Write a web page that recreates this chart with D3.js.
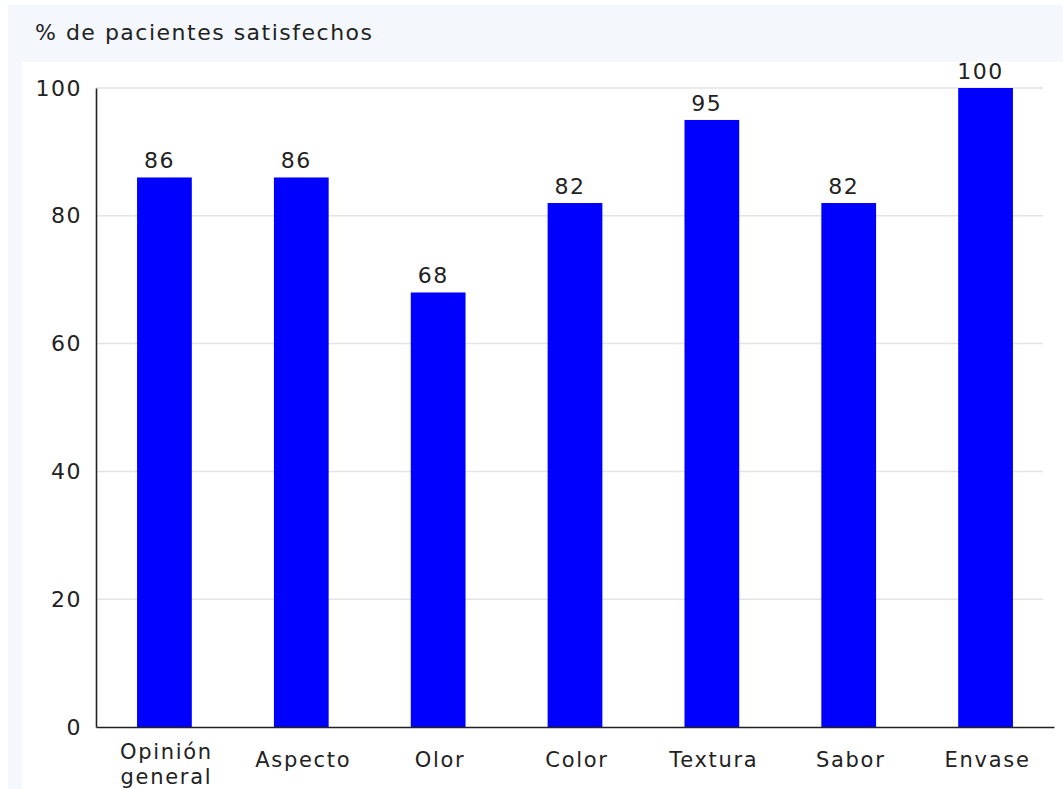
<!DOCTYPE html>
<html>
<head>
<meta charset="utf-8">
<script src="https://cdn.jsdelivr.net/npm/d3@7"></script>
<style>
  html, body { margin: 0; padding: 0; background: #ffffff; }
  svg { display: block; }
  text { font-family: "DejaVu Sans", Verdana, sans-serif; font-size: 22px; fill: #222; letter-spacing: 1.5px; }
  text.cat { font-size: 21px; letter-spacing: 1.7px; }
</style>
</head>
<body>
<svg id="chart" width="1063" height="789"></svg>
<script>
// Patient satisfaction by product attribute
const categories = ["Opinión general", "Aspecto", "Olor", "Color", "Textura", "Sabor", "Envase"];
const values = [86, 86, 68, 82, 95, 82, 100];
const yTicks = [0, 20, 40, 60, 80, 100];
const yTitle = "% de pacientes satisfechos";

const svg = d3.select("#chart");
const W = 1063, H = 789;

// background frame and white plotting panel
svg.append("rect").attr("x", 8).attr("y", 5).attr("width", W - 8).attr("height", H - 5).attr("fill", "#f4f8fd");
svg.append("rect").attr("x", 22).attr("y", 62).attr("width", W - 22).attr("height", H - 62).attr("fill", "#ffffff");

const x0 = 96, x1 = 1054, yBottom = 727, yTop = 88;

const x = d3.scaleBand().domain(categories).range([x0, x1]).paddingInner(0.6).paddingOuter(0.3);
const y = d3.scaleLinear().domain([0, 100]).range([yBottom, yTop]);

// horizontal gridlines
svg.append("g").selectAll("line").data(yTicks.filter(d => d > 0)).join("line")
  .attr("x1", x0).attr("x2", 1043)
  .attr("y1", d => y(d)).attr("y2", d => y(d))
  .attr("stroke", "#e4e4e4").attr("stroke-width", 1.5);

// bars
svg.append("g").selectAll("rect").data(values).join("rect")
  .attr("x", (d, i) => x(categories[i]))
  .attr("y", d => y(d))
  .attr("width", x.bandwidth())
  .attr("height", d => y(0) - y(d))
  .attr("fill", "#0000ff");

// value labels
svg.append("g").selectAll("text").data(values).join("text")
  .attr("x", (d, i) => x(categories[i]) + x.bandwidth() / 2 - 5)
  .attr("y", d => y(d) - 9)
  .attr("text-anchor", "middle")
  .text(d => d);

// y axis
const yAxis = svg.append("g").attr("transform", `translate(${x0},0)`)
  .call(d3.axisLeft(y).tickValues(yTicks).tickSize(0).tickPadding(14));
yAxis.select(".domain").attr("stroke", "#222").attr("stroke-width", 1.6);
yAxis.selectAll("text").attr("font-size", null).attr("font-family", null).attr("fill", "#222");

// x axis
const xAxis = svg.append("g").attr("transform", `translate(0,${yBottom})`)
  .call(d3.axisBottom(x).tickSize(0).tickFormat(""));
xAxis.select(".domain").attr("stroke", "#222").attr("stroke-width", 1.6);

// category labels, one line per word
const catG = svg.append("g");
categories.forEach(c => {
  const lines = c.split(" ");
  const cx = x(c) + x.bandwidth() / 2 + 2;
  lines.forEach((ln, j) => {
    catG.append("text")
      .attr("class", "cat")
      .attr("text-anchor", "middle")
      .attr("x", cx)
      .attr("y", 767 - 8 * (lines.length - 1) + 25 * j)
      .text(ln);
  });
});

// y title
svg.append("text").attr("x", 35).attr("y", 40).text(yTitle);
</script>
</body>
</html>
